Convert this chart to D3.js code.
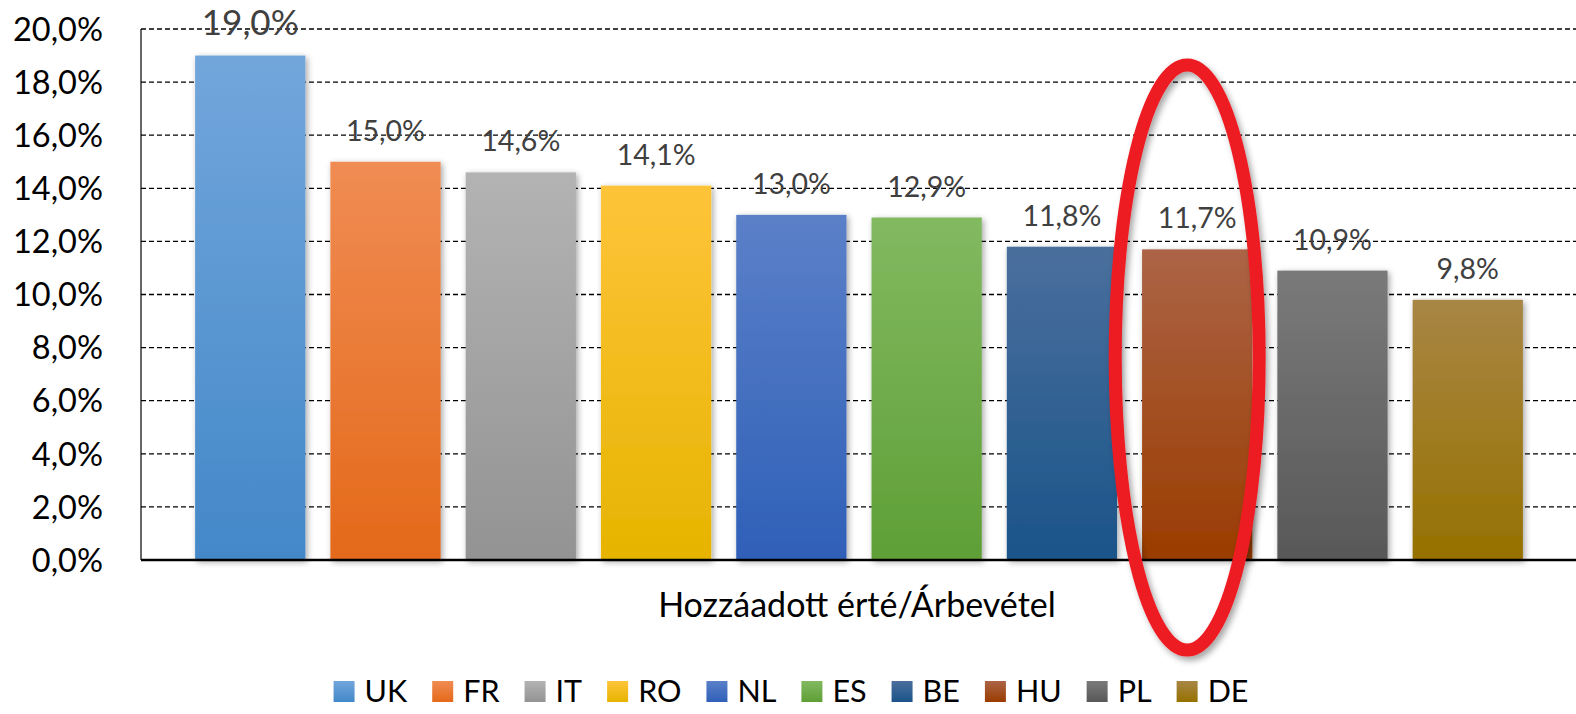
<!DOCTYPE html>
<html>
<head>
<meta charset="utf-8">
<script src="https://cdn.jsdelivr.net/npm/d3@7"></script>
<style>
  html, body { margin: 0; padding: 0; background: #fff; }
  svg { display: block; }
  text { font-family: Lato, "Open Sans", sans-serif; }
</style>
</head>
<body>
<svg id="chart" width="1576" height="714"></svg>
<script>
// ---- data ----
const categories = ["UK", "FR", "IT", "RO", "NL", "ES", "BE", "HU", "PL", "DE"];
const values = [0.190, 0.150, 0.146, 0.141, 0.130, 0.129, 0.118, 0.117, 0.109, 0.098];
const topColors = ["#72a6db", "#f08c53", "#b3b3b3", "#fec43a", "#5b80c8", "#82b961", "#4a6f9d", "#ac6446", "#7a7a7a", "#a88645"];
const bottomColors = ["#4388c9", "#e4691a", "#939393", "#e6b400", "#2f60b8", "#5f9f36", "#1a5489", "#9a3c00", "#585858", "#967100"];
const yTicks = [0, 0.02, 0.04, 0.06, 0.08, 0.10, 0.12, 0.14, 0.16, 0.18, 0.20];
const axisTitle = "Hozzáadott érté/Árbevétel";
const highlighted = "HU";

(function () {
// ---- setup ----
const svg = d3.select("#chart");
const W = 1576, H = 714;
const pLeft = 141, pRight = 1577, pTop = 29, pBottom = 560;

const locale = d3.formatLocale({ decimal: ",", thousands: " ", grouping: [3], currency: ["", ""] });
const pct = locale.format(".1%");

const x = d3.scaleBand().domain(categories).range([pLeft, pRight]).paddingInner(0.185).paddingOuter(0.4);
const y = d3.scaleLinear().domain([0, 0.20]).range([pBottom, pTop]);

const defs = svg.append("defs");
categories.forEach((c, i) => {
  const g = defs.append("linearGradient").attr("id", "grad" + i)
    .attr("x1", 0).attr("y1", 0).attr("x2", 0).attr("y2", 1);
  g.append("stop").attr("offset", "0%").attr("stop-color", topColors[i]);
  g.append("stop").attr("offset", "100%").attr("stop-color", bottomColors[i]);
});
const sh = defs.append("filter").attr("id", "shadow").attr("x", "-20%").attr("y", "-20%").attr("width", "140%").attr("height", "140%");
sh.append("feDropShadow").attr("dx", 2).attr("dy", 2).attr("stdDeviation", 3)
  .attr("flood-color", "#000").attr("flood-opacity", 0.35);
const sh2 = defs.append("filter").attr("id", "shadow2").attr("x", "-30%").attr("y", "-10%").attr("width", "160%").attr("height", "120%");
sh2.append("feDropShadow").attr("dx", 3).attr("dy", 4).attr("stdDeviation", 3)
  .attr("flood-color", "#000").attr("flood-opacity", 0.35);

// ---- gridlines ----
svg.append("g").selectAll("line").data(yTicks.filter(t => t > 0)).join("line")
  .attr("x1", pLeft).attr("x2", W)
  .attr("y1", d => y(d)).attr("y2", d => y(d))
  .attr("stroke", "#000").attr("stroke-width", 1.3).attr("stroke-dasharray", "5,3");

// ---- y tick labels ----
svg.append("g").selectAll("text").data(yTicks).join("text")
  .attr("x", 103).attr("y", d => y(d)).attr("dy", "0.36em")
  .attr("text-anchor", "end").attr("font-size", 32.5).attr("fill", "#000")
  .text(d => pct(d));

// ---- bars ----
svg.append("g").selectAll("rect").data(categories).join("rect")
  .attr("x", d => x(d)).attr("width", x.bandwidth())
  .attr("y", (d, i) => y(values[i])).attr("height", (d, i) => y(0) - y(values[i]))
  .attr("fill", (d, i) => `url(#grad${i})`)
  .attr("filter", "url(#shadow)");

// ---- axes lines ----
svg.append("line").attr("x1", pLeft).attr("x2", pLeft).attr("y1", pTop).attr("y2", pBottom)
  .attr("stroke", "#000").attr("stroke-width", 1.2);
svg.append("line").attr("x1", pLeft).attr("x2", W).attr("y1", y(0)).attr("y2", y(0))
  .attr("stroke", "#000").attr("stroke-width", 2.4);

// ---- data labels ----
svg.append("g").selectAll("text").data(categories).join("text")
  .attr("x", d => x(d) + x.bandwidth() / 2)
  .attr("y", (d, i) => y(values[i]) - (i === 0 ? 20.5 : 21))
  .attr("text-anchor", "middle")
  .attr("font-size", (d, i) => i === 0 ? 35 : 28.5)
  .attr("fill", "#404040")
  .text((d, i) => pct(values[i]));

// ---- axis title ----
svg.append("text").attr("x", 857).attr("y", 617).attr("text-anchor", "middle")
  .attr("font-size", 34).attr("fill", "#000").text(axisTitle);

// ---- legend ----
const legend = svg.append("g");
let lx = 0;
categories.forEach((c, i) => {
  const g = legend.append("g");
  g.append("rect").attr("x", lx).attr("y", 681).attr("width", 21).attr("height", 21)
    .attr("fill", `url(#grad${i})`);
  const t = g.append("text").attr("x", lx + 31).attr("y", 702)
    .attr("font-size", 30.5).attr("fill", "#000").text(c);
  const w = t.node().getComputedTextLength();
  lx = lx + 31 + w + 25;
});
const totalW = lx - 25;
legend.attr("transform", `translate(${791 - totalW / 2},0)`);

// ---- highlight ellipse ----
const hx = x(highlighted) + x.bandwidth() / 2 - 10;
const eTop = 65, eBottom = 650;
svg.append("ellipse")
  .attr("cx", hx).attr("cy", (eTop + eBottom) / 2)
  .attr("rx", 72).attr("ry", (eBottom - eTop) / 2)
  .attr("fill", "none").attr("stroke", "#ed1c24").attr("stroke-width", 13)
  .attr("filter", "url(#shadow2)");
})();
</script>
</body>
</html>
